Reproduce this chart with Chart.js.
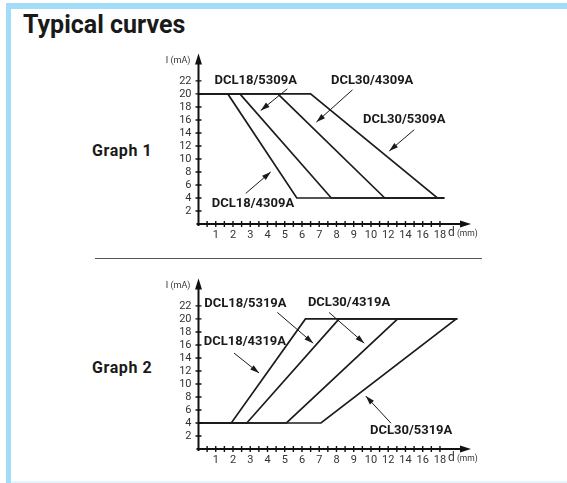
<!DOCTYPE html>
<html>
<head>
<meta charset="utf-8">
<script src="https://cdn.jsdelivr.net/npm/chart.js@4.4.0/dist/chart.umd.min.js"></script>
<style>
  body { margin: 0; width: 567px; height: 483px; position: relative; background: #fff; overflow: hidden; }
  .bar { position: absolute; background: #a3dcf6; }
  .title { position: absolute; left: 23px; top: 12px; font: bold 25px Roboto, sans-serif; line-height: 25px; color: #1a1a1a; }
  .graph { position: absolute; left: 92px; font: bold 16px Roboto, sans-serif; line-height: 16px; color: #1a1a1a; letter-spacing: 0.6px; }
  .sep { position: absolute; left: 95px; top: 258px; width: 387px; height: 1px; background: #555; }
  canvas { position: absolute; left: 150px; }
</style>
</head>
<body>
<div class="bar" style="left:6px;top:3px;width:561px;height:6px"></div>
<div class="bar" style="left:6px;top:3px;width:5px;height:480px"></div>
<div class="bar" style="left:11px;top:481px;width:556px;height:2px;background:#e6f6fd"></div>
<div class="title">Typical curves</div>
<div class="graph" style="top:143px">Graph 1</div>
<div class="graph" style="top:360px">Graph 2</div>
<div class="sep"></div>
<canvas id="graph1" width="340" height="215" style="top:40px"></canvas>
<canvas id="graph2" width="340" height="215" style="top:265px"></canvas>

<script>
// tick labels: the d axis is 1..9 mm, then 10..18 mm in steps of 2 (same spacing)
let xTickLabels = ['1', '2', '3', '4', '5', '6', '7', '8', '9', '10', '12', '14', '16', '18'];
let yTickValues = [2, 4, 6, 8, 10, 12, 14, 16, 18, 20, 22];

// Graph 1: current falls from 20 mA to 4 mA, d (mm) at each corner
let graph1Names = ['DCL18/4309A', 'DCL18/5309A', 'DCL30/4309A', 'DCL30/5309A'];
let graph1D = [
    [0, 1.7, 5.7, 18.5],
    [0, 2.4, 7.7, 18.5],
    [0, 4.6, 11.6, 18.5],
    [0, 6.5, 17.7, 18.5]
];
let graph1I = [20, 20, 4, 4];

// Graph 2: current rises from 4 mA to 20 mA
let graph2Names = ['DCL18/5319A', 'DCL18/4319A', 'DCL30/4319A', 'DCL30/5319A'];
let graph2D = [
    [0, 1.9, 6.2, 20],
    [0, 2.8, 8.15, 20],
    [0, 5.1, 13.1, 20],
    [0, 7.1, 19.9, 20]
];
let graph2I = [4, 4, 20, 20];


/**
 * position on the d axis: linear up to 10 mm, half scale above
 */
function axisPos(d) {
    return d <= 10 ? d : 10 + (d - 10) / 2;
}


/**
 * label placement for the curve names, in axis units
 * text: [x, y], arrow: [fromX, fromY, toX, toY]
 */
let graph1Notes = [
    { name: graph1Names[0], text: [3.16, 3.06], arrow: [2.74, 4.7, 4.19, 8.01] },
    { name: graph1Names[1], text: [3.32, 21.97], arrow: [5.15, 20.78, 3.61, 17.46] },
    { name: graph1Names[2], text: [10.07, 22.05], arrow: [8.93, 20.63, 6.84, 15.67] },
    { name: graph1Names[3], text: [11.93, 16.08], arrow: [12.51, 14.5, 11.06, 11.23] }
];
let graph2Notes = [
    { name: graph2Names[0], text: [2.72, 22.34], arrow: [4.57, 21.0, 6.65, 16.27] },
    { name: graph2Names[1], text: [2.69, 16.53], arrow: [2.06, 14.75, 3.51, 11.69] },
    { name: graph2Names[2], text: [8.73, 22.49], arrow: [7.57, 21.0, 9.61, 16.27] },
    { name: graph2Names[3], text: [12.33, 2.79], arrow: [11.16, 3.97, 9.7, 8.14] }
];


function drawArrowHead(ctx, fromX, fromY, toX, toY, len, half) {
    let a = Math.atan2(toY - fromY, toX - fromX);
    ctx.beginPath();
    ctx.moveTo(toX, toY);
    ctx.lineTo(toX - len * Math.cos(a) + half * Math.sin(a), toY - len * Math.sin(a) - half * Math.cos(a));
    ctx.lineTo(toX - len * Math.cos(a) - half * Math.sin(a), toY - len * Math.sin(a) + half * Math.cos(a));
    ctx.closePath();
    ctx.fill();
}


/**
 * draws the axes with arrows, the + tick marks, axis titles and curve names
 */
const axesPlugin = {
    id: 'axesPlugin',
    afterDatasetsDraw(chart, args, opts) {
        const ctx = chart.ctx;
        const x = chart.scales.x;
        const y = chart.scales.y;
        const x0 = x.getPixelForValue(0);
        const y0 = y.getPixelForValue(0);
        const xEnd = x.getPixelForValue(x.max);
        const yEnd = y.getPixelForValue(y.max);
        ctx.save();
        ctx.strokeStyle = '#111';
        ctx.fillStyle = '#111';
        ctx.lineWidth = 2;
        ctx.beginPath();
        ctx.moveTo(x0 - 2, y0);
        ctx.lineTo(xEnd - 6, y0);
        ctx.moveTo(x0, y0 + 2);
        ctx.lineTo(x0, yEnd + 6);
        ctx.stroke();
        drawArrowHead(ctx, x0, y0, xEnd, y0, 11, 3.5);
        drawArrowHead(ctx, x0, y0, x0, yEnd, 11, 3.5);

        ctx.lineWidth = 1.4;
        ctx.beginPath();
        for (let v = 0.5; v <= 14; v += 0.5) {
            let px = x.getPixelForValue(v);
            ctx.moveTo(px, y0 - 3);
            ctx.lineTo(px, y0 + 3);
        }
        for (let i = 0; i < yTickValues.length; i++) {
            let py = y.getPixelForValue(yTickValues[i]);
            ctx.moveTo(x0 - 3, py);
            ctx.lineTo(x0 + 3, py);
        }
        ctx.stroke();

        // axis titles
        ctx.fillStyle = '#333';
        ctx.textBaseline = 'middle';
        ctx.textAlign = 'right';
        ctx.font = '9px Roboto, sans-serif';
        ctx.fillText('I (mA)', x0 - 8, yEnd + 7);
        ctx.textAlign = 'left';
        let dx = x.getPixelForValue(14) + 8;
        ctx.font = '12px Roboto, sans-serif';
        ctx.fillText('d', dx, y0 + 9);
        ctx.font = '8.5px Roboto, sans-serif';
        ctx.fillText('(mm)', dx + 9, y0 + 10);

        // curve names with pointer arrows
        ctx.fillStyle = '#1a1a1a';
        ctx.strokeStyle = '#1a1a1a';
        ctx.font = 'bold 13px Roboto, sans-serif';
        ctx.textAlign = 'center';
        opts.notes.forEach(n => {
            ctx.fillText(n.name, x.getPixelForValue(n.text[0]), y.getPixelForValue(n.text[1]));
            let fx = x.getPixelForValue(n.arrow[0]), fy = y.getPixelForValue(n.arrow[1]);
            let tx = x.getPixelForValue(n.arrow[2]), ty = y.getPixelForValue(n.arrow[3]);
            ctx.lineWidth = 1;
            ctx.beginPath();
            ctx.moveTo(fx, fy);
            ctx.lineTo(tx, ty);
            ctx.stroke();
            drawArrowHead(ctx, fx, fy, tx, ty, 9, 2.8);
        });
        ctx.restore();
    }
};


/**
 * renders one graph of typical curves
 */
function renderGraph(canvasId, names, dValues, iValues, notes) {
    let tickFont = { family: 'Roboto, sans-serif', size: 11 };
    let datasets = [];
    for (let i = 0; i < names.length; i++) {
        datasets.push({
            label: names[i],
            data: dValues[i].map((d, j) => ({ x: axisPos(d), y: iValues[j] })),
            borderColor: '#1c1c1c',
            borderWidth: 1.7,
            pointRadius: 0,
            tension: 0,
            fill: false
        });
    }
    return new Chart(document.getElementById(canvasId), {
        type: 'line',
        data: { datasets: datasets },
        options: {
            responsive: false,
            animation: false,
            events: [],
            layout: { padding: { top: 13, right: 19, left: 0, bottom: 0 } },
            plugins: {
                legend: { display: false },
                tooltip: { enabled: false },
                axesPlugin: { notes: notes }
            },
            scales: {
                x: {
                    type: 'linear',
                    min: 0,
                    max: 15.8,
                    grid: { display: false, drawTicks: false },
                    border: { display: false },
                    afterBuildTicks: s => { s.ticks = xTickLabels.map((t, i) => ({ value: i + 1 })); },
                    afterFit: s => { s.height = 31; },
                    ticks: {
                        autoSkip: false,
                        maxRotation: 0,
                        padding: 5,
                        color: '#333',
                        font: tickFont,
                        callback: v => xTickLabels[v - 1]
                    }
                },
                y: {
                    min: 0,
                    max: 26.2,
                    grid: { display: false, drawTicks: false },
                    border: { display: false },
                    afterBuildTicks: s => { s.ticks = yTickValues.map(v => ({ value: v })); },
                    afterFit: s => { s.width = 48.5; },
                    ticks: {
                        autoSkip: false,
                        padding: 7,
                        color: '#333',
                        font: tickFont
                    }
                }
            }
        },
        plugins: [axesPlugin]
    });
}

renderGraph('graph1', graph1Names, graph1D, graph1I, graph1Notes);
renderGraph('graph2', graph2Names, graph2D, graph2I, graph2Notes);
</script>
</body>
</html>
